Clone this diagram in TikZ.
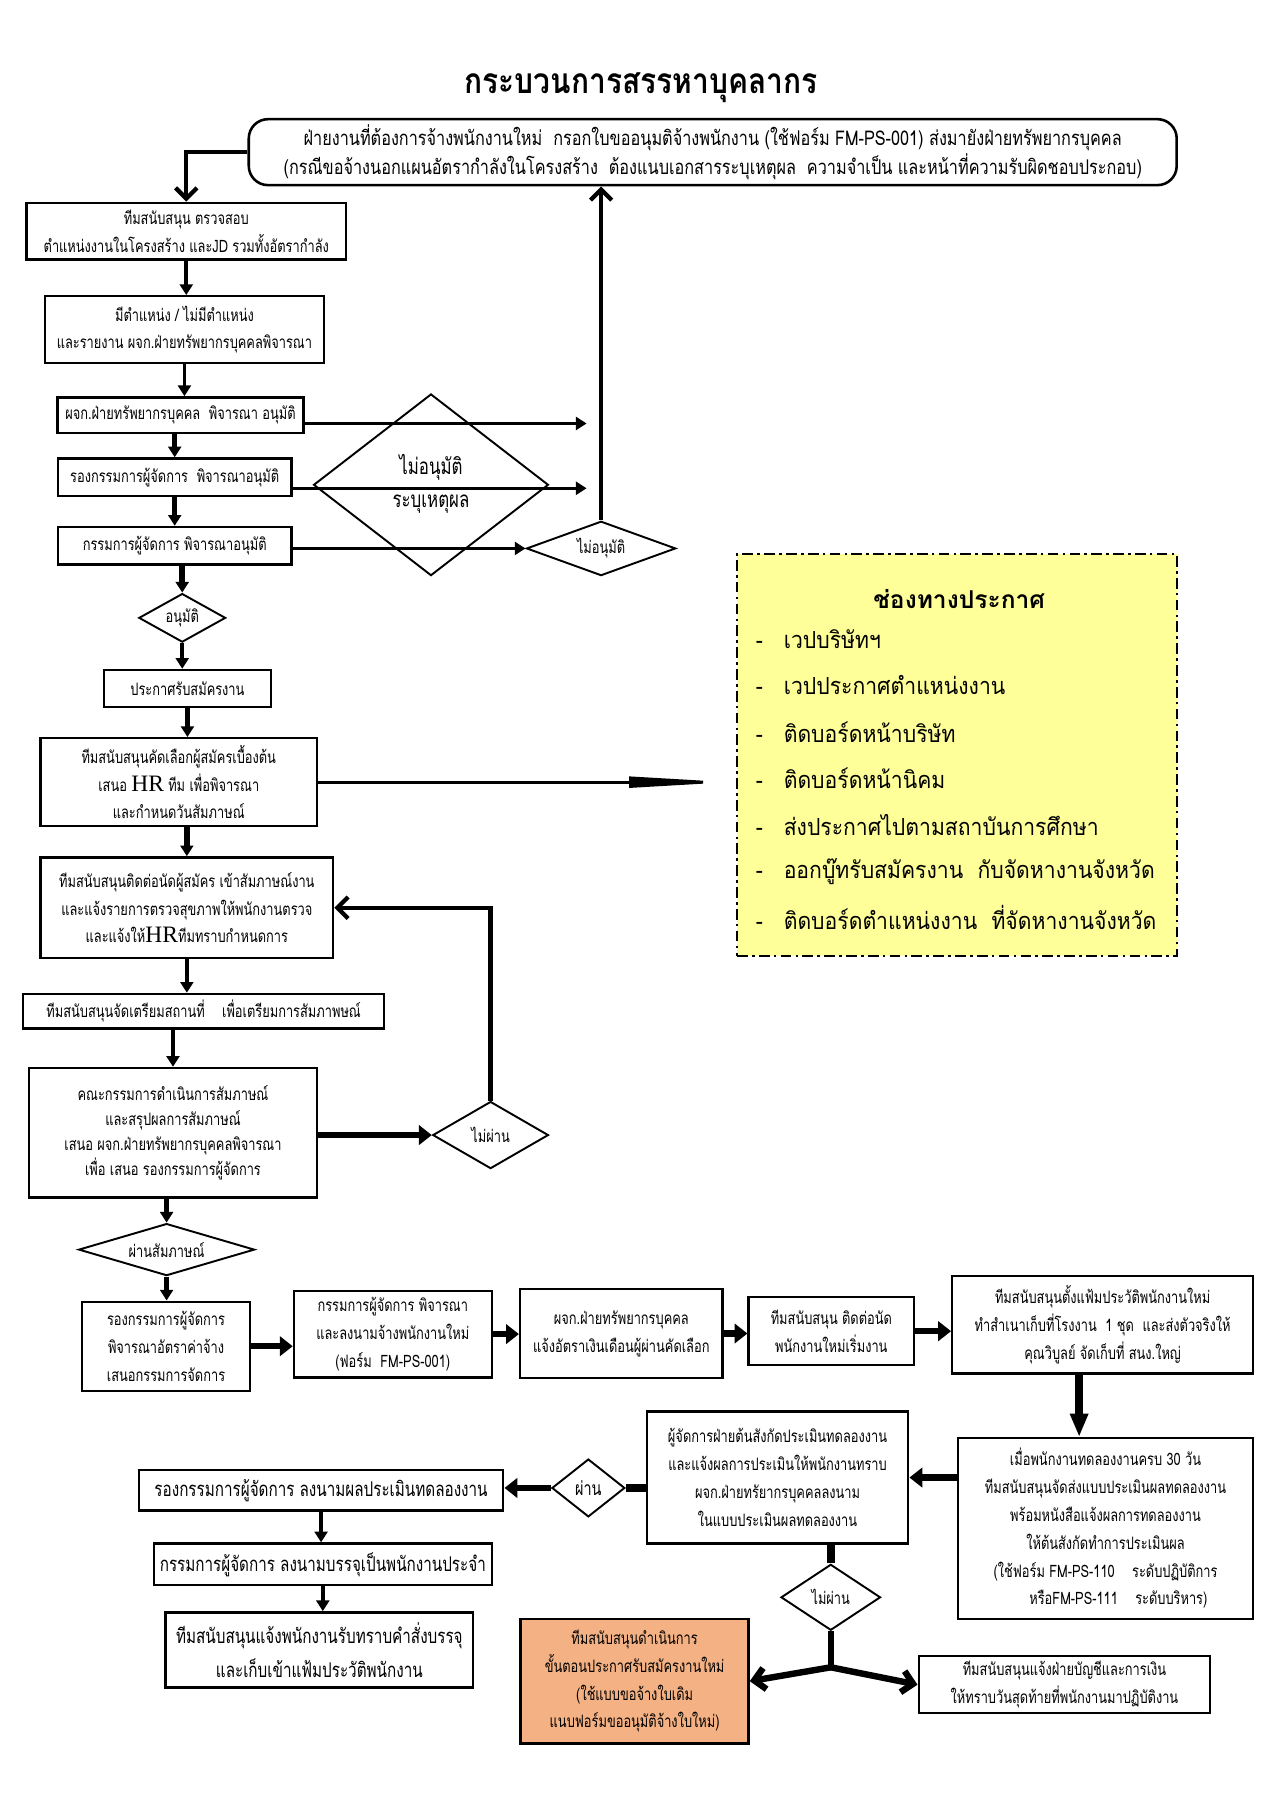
\documentclass[tikz,border=0pt]{standalone}
\usepackage{fontspec}
\newfontfamily\thai[Script=Thai]{Loma}
\newfontfamily\thaiy[Script=Thai,FakeStretch=0.9]{Loma}
\newfontfamily\thaic[Script=Thai,FakeStretch=0.75]{Loma}
\newfontfamily\thaim[Script=Thai,FakeStretch=0.8]{Loma}
\newfontfamily\thait[Script=Thai,FakeStretch=0.85]{Loma}
\newfontfamily\latser{Liberation Serif}
\usetikzlibrary{shapes.geometric,arrows.meta}
\definecolor{ybox}{HTML}{FFFF99}
\definecolor{obox}{HTML}{F4B183}
\begin{document}
\begin{tikzpicture}[x=0.5412pt,y=-0.5412pt,
  box/.style={draw, line width=1.1pt, fill=white, inner sep=1pt, align=center,
    font=\thaic\fontsize{8}{13}\selectfont},
  sz/.style 2 args={minimum width=#1*0.5412pt, minimum height=#2*0.5412pt},
  dia/.style={draw, diamond, line width=0.9pt, fill=white, inner sep=0pt},
  dtext/.style={inner sep=0pt, font=\thaic\fontsize{8}{10}\selectfont},
  arr/.style={line width=1.8pt, -{Triangle[length=5pt,width=6pt]}},
  bigarr/.style={line width=3pt, -{Triangle[length=6pt,width=9pt]}},
  barb/.style={line width=2pt, -{Straight Barb[length=5pt,width=10pt]}},
  tiparr/.style={line width=1.4pt, -{Triangle[length=48pt,width=5pt]}},
  item/.style={anchor=west, font=\thaiy\fontsize{11}{13}\selectfont, inner sep=0pt}
]
\useasboundingbox (0,0) rectangle (1100.3,1555.7);

% title
\node[font=\thait\bfseries\fontsize{16.5}{20}\selectfont] (title) at (554,76) {กระบวนการสรรหาบุคลากร};

% top terminator
\node[draw, line width=1.2pt, rounded corners=9pt, sz={802}{57}, align=center,
  font=\thaim\fontsize{9.5}{9.9}\selectfont, inner sep=0pt] (T) at (616,131.5)
  {ฝ่ายงานที่ต้องการจ้างพนักงานใหม่ ~กรอกใบขออนุมติจ้างพนักงาน (ใช้ฟอร์ม FM-PS-001) ส่งมายังฝ่ายทรัพยากรบุคคล\\
   (กรณีขอจ้างนอกแผนอัตรากำลังในโครงสร้าง ~ต้องแนบเอกสารระบุเหตุผล ~ความจำเป็น และหน้าที่ความรับผิดชอบประกอบ)};

% left column
\node[box,sz={276}{49}] (B1) at (161,199.7) {ทีมสนับสนุน ตรวจสอบ\\ตำแหน่งงานในโครงสร้าง และJD รวมทั้งอัตรากำลัง};
\node[box,sz={241}{57.5}] (B2) at (159.4,284.8) {มีตำแหน่ง / ไม่มีตำแหน่ง\\และรายงาน ผจก.ฝ่ายทรัพยากรบุคคลพิจารณา};
\node[box,sz={212.5}{30.6}] (B3) at (156,358.7) {ผจก.ฝ่ายทรัพยากรบุคคล ~พิจารณา อนุมัติ};
\node[box,sz={202}{32.5}] (B4) at (151,412.5) {รองกรรมการผู้จัดการ ~พิจารณาอนุมัติ};
\node[box,sz={202}{32.6}] (B5) at (151,471.7) {กรรมการผู้จัดการ พิจารณาอนุมัติ};

\node[dia, sz={203}{157}] (BD) at (372.5,419) {};
\node[font=\thaic\fontsize{10.5}{12}\selectfont] (BDa) at (372.5,404) {ไม่อนุมัติ};
\node[font=\thaic\fontsize{10.5}{12}\selectfont] (BDb) at (372.5,436) {ระบุเหตุผล};
\node[dia,sz={129}{47}] (SD1) at (519.5,474) {};
\node[dtext] (SD1t) at (SD1) {ไม่อนุมัติ};
\coordinate (c1) at (507,366);
\coordinate (c2) at (507,422);

\node[dia,sz={75}{42}] (A) at (157.5,534) {};
\node[dtext] (At) at (A) {อนุมัติ};
\node[box,sz={144}{32}] (B6) at (162,595) {ประกาศรับสมัครงาน};
\node[box,sz={239}{76}] (B7) at (154.5,676) {ทีมสนับสนุนคัดเลือกผู้สมัครเบื้องต้น\\เสนอ {\latser\fontsize{11}{13}\selectfont HR} ทีม เพื่อพิจารณา\\และกำหนดวันสัมภาษณ์};

% yellow box
\node[draw, line width=1pt, fill=ybox, dash pattern=on 5pt off 2pt on 1.2pt off 2pt,
  sz={380}{347}] (Y) at (827,652.5) {};
\node[font=\thai\bfseries\fontsize{11.5}{13}\selectfont] (Yt) at (829,518) {ช่องทางประกาศ};
\node[item] (y1) at (653,552) {\makebox[13pt][l]{-}เวปบริษัทฯ};
\node[item] (y2) at (653,592) {\makebox[13pt][l]{-}เวปประกาศตำแหน่งงาน};
\node[item] (y3) at (653,633) {\makebox[13pt][l]{-}ติดบอร์ดหน้าบริษัท};
\node[item] (y4) at (653,673) {\makebox[13pt][l]{-}ติดบอร์ดหน้านิคม};
\node[item] (y5) at (653,713) {\makebox[13pt][l]{-}ส่งประกาศไปตามสถาบันการศึกษา};
\node[item] (y6) at (653,753) {\makebox[13pt][l]{-}ออกบู๊ทรับสมัครงาน ~กับจัดหางานจังหวัด};
\node[item] (y7) at (653,793) {\makebox[13pt][l]{-}ติดบอร์ดตำแหน่งงาน ~ที่จัดหางานจังหวัด};

\node[box,sz={253}{87}] (B8) at (161.5,784.5) {ทีมสนับสนุนติดต่อนัดผู้สมัคร เข้าสัมภาษณ์งาน\\และแจ้งรายการตรวจสุขภาพให้พนักงานตรวจ\\และแจ้งให้{\latser\fontsize{11}{13}\selectfont HR}ทีมทราบกำหนดการ};
\node[box,sz={312}{30}] (B9) at (176,874) {ทีมสนับสนุนจัดเตรียมสถานที่ ~ ~เพื่อเตรียมการสัมภาพษณ์};
\node[box,sz={249}{112},font=\thaic\fontsize{8}{11.7}\selectfont] (B10) at (149.5,979) {คณะกรรมการดำเนินการสัมภาษณ์\\และสรุปผลการสัมภาษณ์\\เสนอ ผจก.ฝ่ายทรัพยากรบุคคลพิจารณา\\เพื่อ เสนอ รองกรรมการผู้จัดการ};
\node[dia,sz={100}{58}] (D2) at (424,981) {};
\node[dtext] (D2t) at (D2) {ไม่ผ่าน};
\node[dia,sz={152}{45}] (D3) at (144,1080) {};
\node[dtext] (D3t) at (D3) {ผ่านสัมภาษณ์};

% bottom row
\node[box,sz={145}{77}] (B11) at (143.5,1163.5) {รองกรรมการผู้จัดการ\\พิจารณาอัตราค่าจ้าง\\เสนอกรรมการจัดการ};
\node[box,sz={171}{75}] (B12) at (339.5,1153) {กรรมการผู้จัดการ พิจารณา\\และลงนามจ้างพนักงานใหม่\\(ฟอร์ม ~FM-PS-001)};
\node[box,sz={175}{77}] (B13) at (537,1152.5) {ผจก.ฝ่ายทรัพยากรบุคคล\\แจ้งอัตราเงินเดือนผู้ผ่านคัดเลือก};
\node[box,sz={143}{59}] (B14) at (718.5,1150.5) {ทีมสนับสนุน ติดต่อนัด\\พนักงานใหม่เริ่มงาน};
\node[box,sz={260}{84}] (B15) at (953,1145) {ทีมสนับสนุนตั้งแฟ้มประวัติพนักงานใหม่\\ทำสำเนาเก็บที่โรงงาน ~1 ชุด ~และส่งตัวจริงให้\\คุณวิบูลย์ จัดเก็บที่ สนง.ใหญ่};
\node[box,sz={255}{156}] (B16) at (955.5,1321) {เมื่อพนักงานทดลองงานครบ 30 วัน\\ทีมสนับสนุนจัดส่งแบบประเมินผลทดลองงาน\\พร้อมหนังสือแจ้งผลการทดลองงาน\\ให้ต้นสังกัดทำการประเมินผล\\(ใช้ฟอร์ม FM-PS-110 ~ ~ระดับปฏิบัติการ\\\hspace*{12pt}หรือFM-PS-111 ~ ~ระดับบริหาร)};
\node[box,sz={226}{114}] (B17) at (672,1277) {ผู้จัดการฝ่ายต้นสังกัดประเมินทดลองงาน\\และแจ้งผลการประเมินให้พนักงานทราบ\\ผจก.ฝ่ายทรัยากรบุคคลลงนาม\\ในแบบประเมินผลทดลองงาน};
\node[dia,sz={63}{50}] (D4) at (508.5,1286) {};
\node[dtext,font=\thaic\fontsize{9}{10}\selectfont] (D4t) at (D4) {ผ่าน};
\node[box,sz={315}{35},font=\thaic\fontsize{9.5}{13}\selectfont] (B18) at (277.5,1288) {รองกรรมการผู้จัดการ ลงนามผลประเมินทดลองงาน};
\node[box,sz={292}{36},font=\thaic\fontsize{9.5}{13}\selectfont] (B19) at (279,1352) {กรรมการผู้จัดการ ลงนามบรรจุเป็นพนักงานประจำ};
\node[box,sz={266}{65},font=\thaic\fontsize{9.5}{16}\selectfont] (B20) at (276,1426) {ทีมสนับสนุนแจ้งพนักงานรับทราบคำสั่งบรรจุ\\และเก็บเข้าแฟ้มประวัติพนักงาน};
\node[dia,sz={86}{57}] (D5) at (718,1380.5) {};
\node[dtext] (D5t) at (D5) {ไม่ผ่าน};
\coordinate (J) at (718,1441);
\node[box,fill=obox,sz={197}{108}] (Or) at (548.5,1453) {ทีมสนับสนุนดำเนินการ\\ขั้นตอนประกาศรับสมัครงานใหม่\\(ใช้แบบขอจ้างใบเดิม\\แนบฟอร์มขออนุมัติจ้างใบใหม่)};
\node[box,sz={252}{49}] (B22) at (920,1456) {ทีมสนับสนุนแจ้งฝ่ายบัญชีและการเงิน\\ให้ทราบวันสุดท้ายที่พนักงานมาปฏิบัติงาน};

% connectors
\draw[barb] (T.west) -| (B1.north);
\draw[arr] (B1.south) -- (B1.south |- B2.north);
\draw[arr] (B2.south) -- (B2.south |- B3.north);
\draw[arr,line width=2.6pt] (B4.north |- B3.south) -- (B4.north);
\draw[arr,line width=2.6pt] (B4.south) -- (B5.north);
\draw[arr,line width=2.6pt] (A.north |- B5.south) -- (A.north);
\draw[arr,line width=1.5pt] (B3.east |- c1) -- (c1);
\draw[arr,line width=1.5pt] (B4.east |- c2) -- (c2);
\draw[arr,line width=1.5pt] (B5.east |- SD1.west) -- (SD1.west);
\draw[barb] (SD1.north) -- (SD1.north |- T.south);
\draw[arr] (A.south) -- (A.south |- B6.north);
\draw[arr,line width=2.6pt] (B6.south) -- (B6.south |- B7.north);
\draw[arr,line width=2.6pt] (B8.north |- B7.south) -- (B8.north);
\draw[tiparr,shorten >=2pt] (B7.east) -- (B7.east -| Y.west);
\draw[arr,line width=2.2pt] (B8.south) -- (B8.south |- B9.north);
\draw[arr,line width=2.2pt] (B10.north |- B9.south) -- (B10.north);
\draw[bigarr] (B10.east |- D2.west) -- (D2.west);
\draw[barb] (D2.north) |- (B8.east);
\draw[arr,line width=2.2pt] (D3.north |- B10.south) -- (D3.north);
\draw[arr,line width=2.2pt] (D3.south) -- (D3.south |- B11.north);
\draw[bigarr] (B11.east) -- (B11.east -| B12.west);
\draw[bigarr] (B12.east) -- (B12.east -| B13.west);
\draw[bigarr] (B13.east) -- (B13.east -| B14.west);
\draw[bigarr] (B14.east) -- (B14.east -| B15.west);
\draw[line width=3.5pt, -{Triangle[length=11pt,width=8pt]}] ([xshift=-11pt]B15.south) -- ([xshift=-11pt]B15.south |- B16.north);
\draw[bigarr] (B16.west |- B17.east) -- (B17.east);
\draw[line width=3.5pt] (B17.west |- D4.east) -- (D4.east);
\draw[bigarr] (D4.west) -- (D4.west -| B18.east);
\draw[arr] (B18.south) -- (B18.south |- B19.north);
\draw[arr] (B19.south) -- (B19.south |- B20.north);
\draw[line width=3.5pt] (D5.north |- B17.south) -- (D5.north);
\draw[line width=3pt] (D5.south) -- (J);
\draw[barb,line width=3pt] (J) -- (Or.east);
\draw[barb,line width=3pt] (J) -- (B22.west);
\end{tikzpicture}
\end{document}
